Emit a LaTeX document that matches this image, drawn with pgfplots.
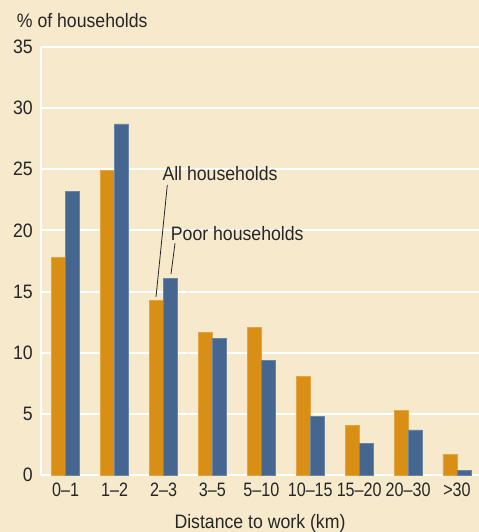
\documentclass[border=0pt]{standalone}
\usepackage{fontspec}
\setmainfont{Liberation Sans}[FakeStretch=0.91]
\newfontfamily\narrowfont{Liberation Sans}[FakeStretch=0.83]
\usepackage{pgfplots}
\pgfplotsset{compat=1.18}
\definecolor{bg}{HTML}{F7E9CB}
\definecolor{orng}{HTML}{D98E15}
\definecolor{blu}{HTML}{45678F}
\definecolor{txt}{HTML}{262626}
\begin{document}
\fontsize{19.5}{23}\selectfont
\begin{tikzpicture}
\fill[bg] (-41bp,-56.7bp) rectangle (438bp,475.3bp);
\begin{axis}[
  scale only axis, width=438bp, height=428.6bp,
  xmin=-0.505, xmax=8.45, ymin=0, ymax=35,
  axis x line=bottom, axis y line=left,
  x axis line style={draw=none},
  y axis line style={-, white, line width=1.8bp},
  ytick={0,5,...,35},
  xtick={0,...,8},
  xticklabels={0–1,1–2,2–3,3–5,5–10,10–15,15–20,20–30,>30},
  ymajorgrids, grid style={white, line width=1.8bp},
  major tick length=0, tick style={draw=none},
  /pgf/number format/assume math mode=true,
  ticklabel style={font=\fontsize{19.5}{23}\selectfont, text=txt},
  xticklabel style={anchor=base, yshift=-21.6bp, font=\narrowfont\fontsize{19.5}{23}\selectfont},
  yticklabel style={xshift=-1.5bp},
  xlabel={Distance to work (km)},
  xlabel style={at={(rel axis cs:0.5,0)}, anchor=base, yshift=-52.7bp, text=txt, font=\fontsize{19.5}{23}\selectfont},
  clip=false,
]
\addplot[ybar, bar width=14bp, bar shift=-7bp, fill=orng, draw=orng!80!white, line width=0.4bp]
  coordinates {(0,17.8) (1,24.9) (2,14.3) (3,11.7) (4,12.1) (5,8.1) (6,4.1) (7,5.3) (8,1.7)};
\addplot[ybar, bar width=14bp, bar shift=7bp, fill=blu, draw=blu!80!white, line width=0.4bp]
  coordinates {(0,23.2) (1,28.7) (2,16.1) (3,11.2) (4,9.4) (5,4.8) (6,2.6) (7,3.7) (8,0.4)};
\draw[txt, line width=0.8bp] (axis cs:2.078,23.72) -- (axis cs:1.847,14.58);
\node[anchor=base west, inner sep=0, text=txt] at (axis cs:1.975,24.11) {All households};
\draw[txt, line width=0.8bp] (axis cs:2.235,18.95) -- (axis cs:2.153,16.44);
\node[anchor=base west, inner sep=0, text=txt] at (axis cs:2.147,19.21) {Poor households};
\node[anchor=base west, inner sep=0, text=txt] at (rel axis cs:0,1) [xshift=-24.3bp, yshift=19.4bp] {\% of households};
\end{axis}
\pgfresetboundingbox
\useasboundingbox (-41bp,-56.7bp) rectangle (438bp,475.3bp);
\end{tikzpicture}
\end{document}
